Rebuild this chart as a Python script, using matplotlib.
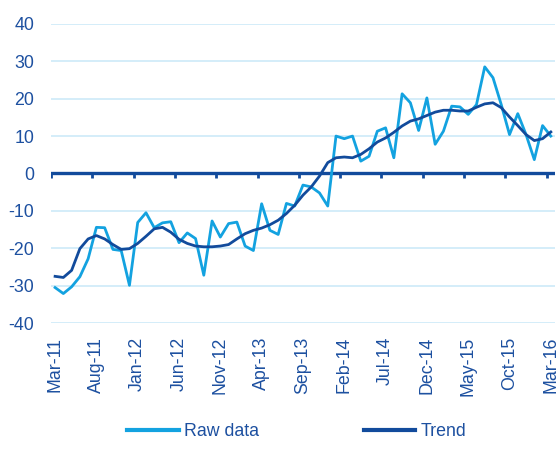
import numpy as np
import matplotlib
matplotlib.use("Agg")
import matplotlib.pyplot as plt

# ================================================================================================
# Data (monthly, Mar-11 .. Mar-16)
# ================================================================================================

tick_labels = ['Mar-11', 'Aug-11', 'Jan-12', 'Jun-12', 'Nov-12', 'Apr-13', 'Sep-13',
               'Feb-14', 'Jul-14', 'Dec-14', 'May-15', 'Oct-15', 'Mar-16']

raw_data = [-30.5, -32.1, -30.3, -27.6, -22.8, -14.4, -14.5, -20.3, -20.6, -29.9,
            -13.1, -10.5, -14.5, -13.2, -12.9, -18.5, -15.9, -17.4, -27.2, -12.7,
            -17.0, -13.4, -13.0, -19.4, -20.6, -8.1, -15.2, -16.3, -8.0, -8.7,
            -3.1, -3.6, -5.2, -8.7, 10.0, 9.3, 10.0, 3.3, 4.6, 11.3,
            12.2, 4.2, 21.3, 18.9, 11.5, 20.2, 7.8, 11.3, 18.0, 17.8,
            15.8, 18.4, 28.5, 25.6, 18.4, 10.4, 16.0, 10.4, 3.7, 12.8,
            10.0]

trend = [-27.5, -27.8, -25.9, -20.1, -17.5, -16.6, -17.5, -19.0, -20.3, -20.1,
         -18.7, -16.8, -14.8, -14.4, -15.7, -17.6, -18.7, -19.4, -19.6, -19.6,
         -19.4, -19.0, -17.5, -16.1, -15.2, -14.6, -13.7, -12.5, -10.7, -8.5,
         -5.8, -3.6, -0.7, 2.9, 4.2, 4.4, 4.2, 5.1, 6.6, 8.4,
         9.5, 11.0, 12.7, 14.0, 14.6, 15.5, 16.4, 16.9, 16.9, 16.7,
         16.7, 17.7, 18.6, 18.9, 17.6, 15.1, 12.8, 10.4, 8.8, 9.3,
         11.1]

# ================================================================================================
# Style
# ================================================================================================

RAW_COL = '#13A2E0'
TREND_COL = '#124B9C'
TEXT_COL = '#1D50A0'
GRID_COL = '#CDEAF8'

plt.rcParams['font.family'] = ['Liberation Sans', 'DejaVu Sans']
plt.rcParams['font.size'] = 12.8
plt.rcParams['axes.unicode_minus'] = False

fig = plt.figure(figsize=(5.6, 4.5), dpi=100)
ax = fig.add_axes([0.091, 0.282, 0.900, 0.665])

x = np.arange(len(raw_data))

ax.plot(x, raw_data, color=RAW_COL, linewidth=2.0, label='Raw data', zorder=3)
ax.plot(x, trend, color=TREND_COL, linewidth=2.0, label='Trend', zorder=4)

ax.set_xlim(-0.5, len(raw_data) - 0.5)
ax.set_ylim(-40, 40)

# grid + zero axis
ax.set_yticks(np.arange(-40, 41, 10))
ax.yaxis.grid(True, color=GRID_COL, linewidth=1.2)
ax.set_axisbelow(True)
ax.axhline(0, color=TREND_COL, linewidth=2.4, zorder=2)

# tick marks on the zero line, at category boundaries
bounds = np.arange(-0.5, len(raw_data) - 1, 5)
ax.vlines(bounds, -1.1, 0, color=TREND_COL, linewidth=2.0, zorder=2)

ax.set_xticks(np.arange(0, len(raw_data), 5))
ax.set_xticklabels(tick_labels, rotation=90)

ax.tick_params(axis='both', length=0, colors=TEXT_COL, labelsize=12.8)
ax.tick_params(axis='y', pad=12)
ax.tick_params(axis='x', pad=10)

for s in ax.spines.values():
    s.set_visible(False)

leg = fig.legend(loc='center', bbox_to_anchor=(0.53, 0.04), ncol=2, frameon=False,
                 handlelength=2.9, handletextpad=0.3, columnspacing=5.9,
                 fontsize=12.8)
for t in leg.get_texts():
    t.set_color(TEXT_COL)
for h in leg.get_lines():
    h.set_linewidth(3.0)

fig.savefig('out.png', dpi=100)
